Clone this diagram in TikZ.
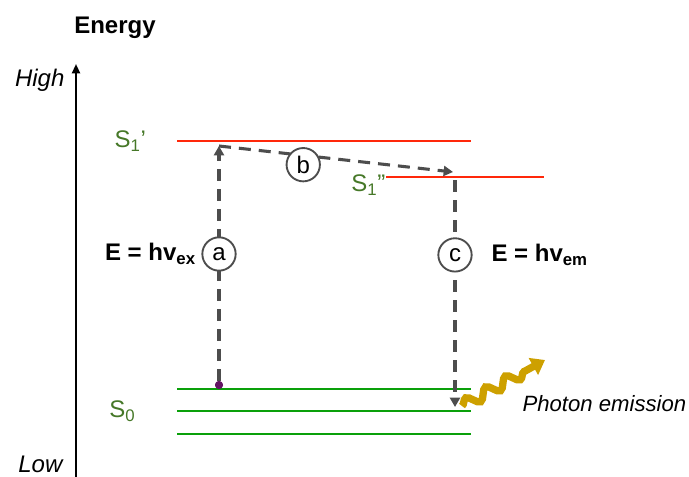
\documentclass[tikz,border=0pt]{standalone}
\usepackage{fontspec}
\setmainfont{Liberation Sans}
\usetikzlibrary{arrows.meta, positioning, decorations.pathmorphing}

\definecolor{levelred}{RGB}{255,40,10}
\definecolor{levelgreen}{RGB}{10,160,10}
\definecolor{labelgreen}{RGB}{70,120,40}
\definecolor{dashgray}{RGB}{77,77,77}
\definecolor{photongold}{RGB}{205,160,0}
\definecolor{dotpurple}{RGB}{100,20,100}

\begin{document}
\begin{tikzpicture}[
  x=0.75pt, y=-0.75pt,
  every node/.style={font=\fontsize{18}{21}\selectfont, inner sep=1pt},
  excited/.style={draw=levelred, line width=1.7pt},
  ground/.style={draw=levelgreen, line width=1.5pt},
  state/.style={text=labelgreen},
  trans/.style={draw=dashgray, line width=2.3pt, dash pattern=on 9pt off 6pt,
    -{Triangle[length=7pt, width=7.5pt]}},
  tag/.style={circle, draw=dashgray, solid, line width=1.4pt, fill=white,
    minimum size=25pt, inner sep=0pt},
  photon/.style={draw=photongold, line width=5.5pt, decorate,
    decoration={snake, amplitude=4pt, segment length=17pt, post length=10pt},
    -{Triangle[length=10pt, width=14pt]}}
]
\useasboundingbox (0,0) rectangle (689,476);

\coordinate (axisbot) at (76,480);
\coordinate (axistop) at (76,64);
\draw[line width=1.5pt, -{Triangle[length=7pt, width=6pt]}] (axisbot) -- (axistop);
\node (energy) at (115,28) {\bfseries Energy};
\node[anchor=east] (high) at (66,80) {\itshape High};
\node[anchor=east] (low) at (64,464) {\itshape Low};

\coordinate (s1a) at (177,141);
\coordinate (s1b) at (471,141);
\coordinate (s2a) at (386,177);
\coordinate (s2b) at (544,177);
\coordinate (g1a) at (177,389);
\coordinate (g1b) at (471,389);
\coordinate (g2a) at (177,411);
\coordinate (g2b) at (471,411);
\coordinate (g3a) at (177,434);
\coordinate (g3b) at (471,434);

\draw[excited] (s1a) -- (s1b);
\draw[excited] (s2a) -- (s2b);
\draw[ground] (g1a) -- (g1b);
\draw[ground] (g2a) -- (g2b);
\draw[ground] (g3a) -- (g3b);

\node[state, left=22pt of s1a] (s1lbl) {S\textsubscript{1}’};
\node[state, anchor=east] (s2lbl) at (387,185) {S\textsubscript{1}”};
\node[state, left=30pt of g2a] (s0lbl) {S\textsubscript{0}};

\node[circle, fill=dotpurple, minimum size=6pt, inner sep=0pt] (dot) at (219,385) {};
\coordinate (s1top) at (219,146);
\coordinate (s2top) at (453,172);
\coordinate (s2bot) at (455,180);
\coordinate (g2hit) at (455,407);

\draw[trans] (dot) -- node[tag, pos=0.54] (a) {a} (s1top);
\draw[trans] (s1top) -- node[tag, pos=0.36, yshift=-7pt] (b) {b} (s2top);
\draw[trans] (s2bot) -- node[tag, pos=0.33] (c) {c} (g2hit);
\node[circle, fill=dotpurple, minimum size=6pt, inner sep=0pt] at (dot) {};

\node[left=3pt of a] (eex) {\bfseries E = hv\textsubscript{ex}};
\node[right=13pt of c] (eem) {\bfseries E = hv\textsubscript{em}};

\coordinate (ph0) at (462,406);
\coordinate (ph1) at (545,360);
\draw[photon] (ph0) -- (ph1);
\node[anchor=west, font=\fontsize{16.6}{20}\selectfont] (emis) at (521,404) {\itshape Photon emission};
\end{tikzpicture}
\end{document}
